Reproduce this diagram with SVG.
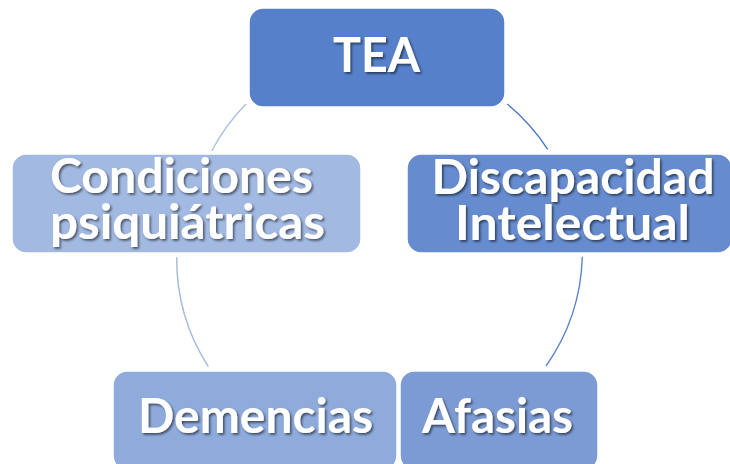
<svg xmlns="http://www.w3.org/2000/svg" width="730" height="464" viewBox="0 0 730 464">
<defs>
<filter id="ts" x="-10%" y="-20%" width="120%" height="150%">
<feDropShadow dx="1.6" dy="1.8" stdDeviation="1.1" flood-color="#000000" flood-opacity="0.55"/>
</filter>
<style>
.box{stroke:#ffffff;stroke-width:1.5}
.lbl{font-family:Lato,"Open Sans","DejaVu Sans",sans-serif;font-weight:bold;font-size:47px;fill:#ffffff;text-anchor:middle;filter:url(#ts)}
.arc{fill:none;stroke-width:1.4}
</style>
</defs>
<rect width="730" height="464" fill="#ffffff"/>
<g id="connectors">
<path class="arc" d="M507.3,104 A200,200 0 0 1 547.7,149.3" stroke="#4a75c5"/>
<path class="arc" d="M582.3,256.7 A200,200 0 0 1 546,366" stroke="#5e86cd"/>
<path class="arc" d="M208.3,366.7 A200,200 0 0 1 176.7,257.3" stroke="#a3b7e0"/>
<path class="arc" d="M211.7,151 A200,200 0 0 1 246,104" stroke="#abbee3"/>
</g>
<g id="node-tea">
<rect class="box" x="249" y="8" width="256" height="99" rx="14" fill="#5681ca"/>
<text class="lbl" x="376.5" y="72" textLength="87" lengthAdjust="spacingAndGlyphs">TEA</text>
</g>
<g id="node-discapacidad">
<rect class="box" x="407" y="154" width="325" height="99" rx="14" fill="#668ccf"/>
<text class="lbl" x="573" y="194" textLength="283" lengthAdjust="spacingAndGlyphs">Discapacidad</text>
<text class="lbl" x="572.5" y="240" textLength="235" lengthAdjust="spacingAndGlyphs">Intelectual</text>
</g>
<g id="node-afasias">
<rect class="box" x="400" y="371" width="198" height="99" rx="14" fill="#7c9bd4"/>
<text class="lbl" x="497.5" y="433" textLength="151" lengthAdjust="spacingAndGlyphs">Afasias</text>
</g>
<g id="node-demencias">
<rect class="box" x="113" y="371" width="284" height="99" rx="14" fill="#8eabdc"/>
<text class="lbl" x="255.5" y="433" textLength="235" lengthAdjust="spacingAndGlyphs">Demencias</text>
</g>
<g id="node-condiciones">
<rect class="box" x="12" y="154" width="349" height="99" rx="14" fill="#a2b9e2"/>
<text class="lbl" x="181.5" y="193" textLength="263" lengthAdjust="spacingAndGlyphs">Condiciones</text>
<text class="lbl" x="187.5" y="239" textLength="275" lengthAdjust="spacingAndGlyphs">psiquiátricas</text>
</g>
</svg>
